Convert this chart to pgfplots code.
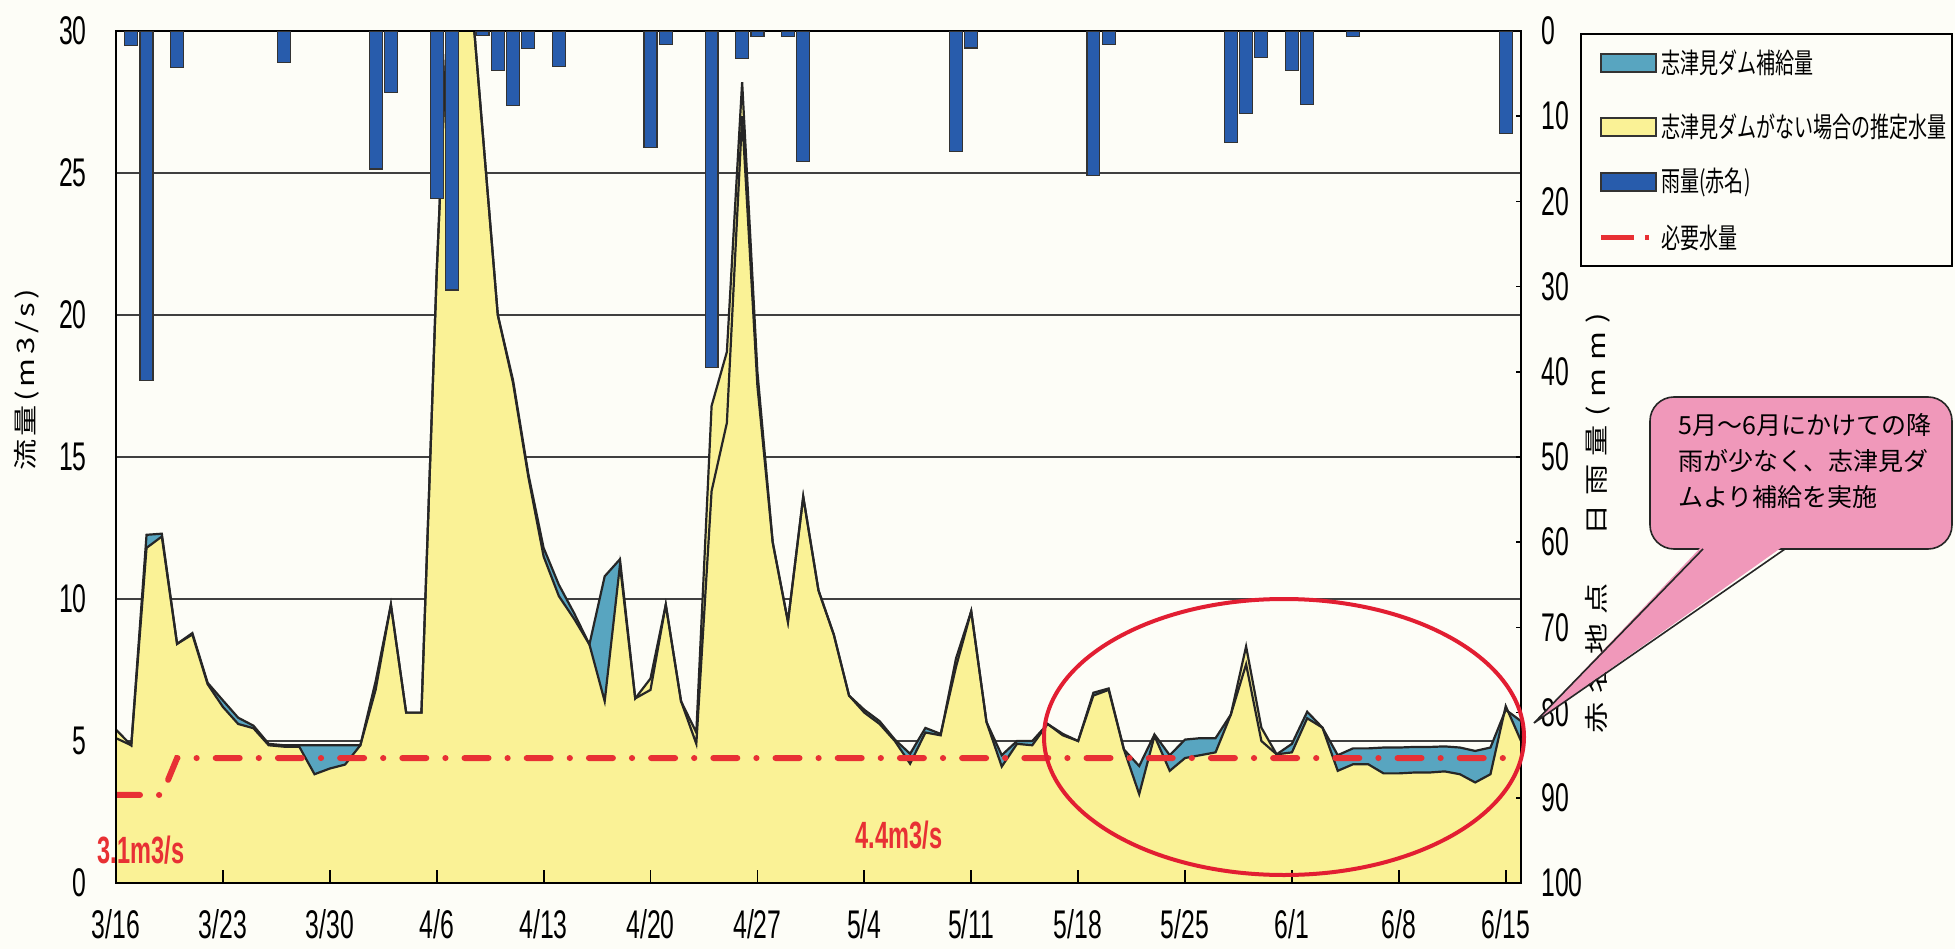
\documentclass[border=0pt]{standalone}
\usepackage{fontspec}
\usepackage{pgfplots}
\usepackage{pgfplotstable}
\pgfplotsset{compat=1.18}
\setmainfont{Liberation Sans}
\newfontfamily\condfont[FakeStretch=0.62]{Liberation Sans}
\newfontfamily\jp{Noto Sans CJK JP}
\newfontfamily\jpcond[FakeStretch=0.68]{Noto Sans CJK JP}
\newfontfamily\jplab[FakeStretch=1.3,LetterSpace=35]{Noto Sans CJK JP}
\newfontfamily\jplabl[FakeStretch=1.3,LetterSpace=15]{Noto Sans CJK JP}

\definecolor{bgcream}{RGB}{253,253,247}
\definecolor{natyellow}{RGB}{250,242,150}
\definecolor{supplyteal}{RGB}{88,165,192}
\definecolor{rainblue}{RGB}{40,92,172}
\definecolor{reqred}{RGB}{232,48,52}
\definecolor{ellred}{RGB}{226,30,50}
\definecolor{calloutpink}{RGB}{240,152,186}

% day 0 = 3/16 ; act = flow with dam, nat = estimated flow without dam
\pgfplotstableread{
d act nat
0 5.1 5.4
1 4.85 4.85
2 12.26 11.8
3 12.3 12.2
4 8.42 8.42
5 8.8 8.75
6 7.05 7.0
7 6.43 6.2
8 5.82 5.6
9 5.54 5.45
10 4.9 4.85
11 4.85 4.8
12 4.85 4.8
13 4.85 3.83
14 4.85 4.03
15 4.85 4.17
16 4.85 4.85
17 6.8 7.1
18 9.8 9.8
19 6.0 6.0
20 6.0 6.0
21 21.5 21.5
22 34 34
23 33 33
24 26.5 26.5
25 20 20
26 17.7 17.6
27 14.4 14.3
28 11.8 11.5
29 10.5 10.1
30 9.5 9.3
31 8.4 8.4
32 10.8 6.4
33 11.4 11.2
34 6.5 6.5
35 6.8 7.2
36 9.8 9.8
37 6.4 6.4
38 4.9 5.3
39 13.8 16.8
40 16.2 18.7
41 27.0 28.2
42 17.5 18.0
43 12.0 12.0
44 9.2 9.2
45 13.6 13.6
46 10.3 10.3
47 8.75 8.75
48 6.6 6.6
49 6.1 6.0
50 5.7 5.6
51 5.05 5.0
52 4.55 4.2
53 5.46 5.3
54 5.25 5.2
55 7.6 7.9
56 9.57 9.57
57 5.67 5.67
58 4.5 4.1
59 5.0 4.9
60 5.0 4.85
61 5.6 5.6
62 5.25 5.2
63 5.0 5.0
64 6.7 6.6
65 6.85 6.8
66 4.7 4.7
67 4.12 3.13
68 5.23 5.18
69 4.5 3.95
70 5.05 4.4
71 5.1 4.5
72 5.1 4.6
73 5.93 5.93
74 7.7 8.33
75 5.0 5.47
76 4.53 4.53
77 4.9 4.6
78 6.03 5.8
79 5.47 5.47
80 4.5 3.95
81 4.74 4.18
82 4.74 4.18
83 4.77 3.86
84 4.77 3.86
85 4.79 3.89
86 4.79 3.89
87 4.81 3.93
88 4.77 3.83
89 4.65 3.54
90 4.77 3.83
91 6.1 6.23
92 5.7 5.0
}\flowdata

\pgfplotstableread{
d rain
1 1.7
2 41
4 4.3
11 3.7
17 16.2
18 7.2
21 19.7
22 30.4
24 0.5
25 4.6
26 8.7
27 2.1
29 4.2
35 13.7
36 1.6
39 39.5
41 3.2
42 0.6
44 0.6
45 15.3
55 14.1
56 2.0
64 17.0
65 1.6
73 13.1
74 9.7
75 3.1
77 4.6
78 8.6
81 0.6
91 12.0
}\raindata

\pgfplotsset{
  base/.style={at={(0,0)}, anchor=south west, scale only axis,
    width=702.5pt, height=426pt, xmin=0, xmax=92,
    /pgf/number format/assume math mode=true},
  tickfont/.style={font=\condfont\fontsize{20pt}{20pt}\selectfont},
}

\begin{document}
\begin{tikzpicture}
\fill[bgcream] (-58pt,-33pt) rectangle (919.5pt,441.5pt);

% grid behind the areas
\begin{axis}[base, ymin=0, ymax=30, ytick={5,10,...,30}, yticklabels={},
  xtick=\empty, ymajorgrids, major grid style={black!75, line width=1.1pt},
  axis line style={draw=none}, tick style={draw=none}]
\addplot[draw=none] coordinates {(0,0)};
\end{axis}

% flow
\begin{axis}[base, ymin=0, ymax=30, axis on top,
  xtick={0,7,...,91},
  xticklabels={3/16,3/23,3/30,4/6,4/13,4/20,4/27,5/4,5/11,5/18,5/25,6/1,6/8,6/15},
  ytick={0,5,...,30},
  xtick pos=left, ytick pos=left, tick align=inside,
  xtick style={black, line width=0.9pt}, major tick length=6.5pt,
  ytick style={draw=none},
  axis line style={black, line width=1.1pt},
  x axis line style={line width=1.6pt, black!80},
  xticklabel style={tickfont, anchor=north, inner sep=0pt, yshift=-13pt},
  yticklabel style={tickfont, anchor=east, inner sep=0pt, xshift=-14.5pt},
]
\addplot[fill=supplyteal, draw=none] table[x=d, y=act] {\flowdata} \closedcycle;
\addplot[fill=natyellow, draw=none] table[x=d, y=nat] {\flowdata} \closedcycle;
\addplot[black!85, line width=1.1pt] table[x=d, y=nat] {\flowdata};
\addplot[black!85, line width=1.1pt] table[x=d, y=act] {\flowdata};
\addplot[reqred, line width=3pt, line cap=round,
  dash pattern=on 12pt off 9.5pt on 0.1pt off 9.5pt]
  coordinates {(0,3.1) (3,3.1) (4,4.4) (92,4.4)};
\end{axis}

% rainfall, hanging from the top
\begin{axis}[base, ymin=0, ymax=100, y dir=reverse,
  axis y line*=right, axis x line=none,
  ytick={0,10,...,100}, tick align=inside, major tick length=2.5pt,
  ytick style={black, line width=0.8pt},
  axis line style={black, line width=1.1pt},
  yticklabel style={tickfont, anchor=west, inner sep=0pt, xshift=10pt},
  ybar, bar width=0.85]
\addplot[fill=rainblue, draw=black!80, line width=0.6pt] table[x=d, y=rain] {\raindata};
\end{axis}

% annotations
\draw[ellred, line width=2pt] (584pt,73pt) ellipse [x radius=120pt, y radius=69pt];
\node[text=reqred, inner sep=0pt, font=\condfont\bfseries\fontsize{19pt}{19pt}\selectfont]
  at (12.5pt,16.5pt) {3.1m3/s};
\node[text=reqred, inner sep=0pt, font=\condfont\bfseries\fontsize{19pt}{19pt}\selectfont]
  at (391.5pt,24pt) {4.4m3/s};

% axis titles
\node[rotate=90, inner sep=0pt, font=\jplabl\fontsize{12pt}{14pt}\selectfont]
  at (-44.5pt,251.5pt) {流量(m3/s)};
\node[rotate=90, inner sep=0pt, font=\jplab\fontsize{12pt}{14pt}\selectfont]
  at (741pt,180pt) {赤名地点　日雨量(mm)};

% legend
\draw[black, line width=0.75pt, fill=bgcream] (732.5pt,308.5pt) rectangle (918pt,424.5pt);
\draw[fill=supplyteal, draw=black!80, line width=0.8pt] (742.5pt,405.5pt) rectangle (770pt,414.5pt);
\draw[fill=natyellow, draw=black!80, line width=0.8pt] (742.5pt,373.5pt) rectangle (770pt,382.5pt);
\draw[fill=rainblue, draw=black!80, line width=0.8pt] (742.5pt,346pt) rectangle (770pt,355pt);
\draw[reqred, line width=2.5pt] (742.5pt,322.5pt) -- (759pt,322.5pt);
\draw[reqred, line width=2.5pt] (764.5pt,322.5pt) -- (766.5pt,322.5pt);
\begin{scope}[every node/.style={anchor=west, inner sep=0pt, font=\jpcond\fontsize{14pt}{14pt}\selectfont}]
\node at (772.5pt,410pt) {志津見ダム補給量};
\node at (772.5pt,378pt) {志津見ダムがない場合の推定水量};
\node at (772.5pt,350.5pt) {雨量(赤名)};
\node at (772.5pt,322.5pt) {必要水量};
\end{scope}

% callout
\draw[fill=calloutpink, draw=black!85, line width=0.8pt, rounded corners=12pt]
  (767pt,167pt) rectangle (918pt,243pt);
\fill[calloutpink] (793.5pt,169pt) -- (709pt,80pt) -- (834.5pt,169pt) -- cycle;
\draw[black!85, line width=0.8pt] (793.5pt,167pt) -- (709pt,80pt) -- (834.5pt,167pt);
\node[anchor=west, align=left, inner sep=0pt,
  font=\jp\fontsize{12.5pt}{18pt}\selectfont] at (781pt,211pt)
  {5月～6月にかけての降\\雨が少なく、志津見ダ\\ムより補給を実施};

\pgfresetboundingbox
\path (-58pt,-33pt) rectangle (919.5pt,441.5pt);
\end{tikzpicture}
\end{document}
